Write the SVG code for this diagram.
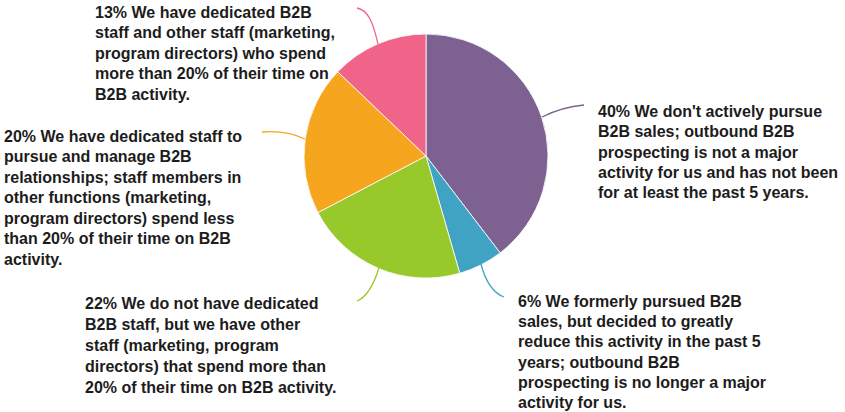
<svg xmlns="http://www.w3.org/2000/svg" width="845" height="412" viewBox="0 0 845 412">
<style>
.sl{stroke:#fff;stroke-width:0.8;stroke-linejoin:round}
.ld{fill:none;stroke-width:1.3}
.lb{font-family:"Liberation Sans",Arial,sans-serif;font-weight:bold;font-size:16px;fill:#1c1c1c}
</style>
<rect width="845" height="412" fill="#fff"/>
<g id="pie">
<g id="slice-40"><path class="sl" fill="#7d6190" d="M426,156 L426,34 A122,122 0 0 1 500.15,252.88 Z"/></g>
<g id="slice-6"><path class="sl" fill="#40a3c4" d="M426,156 L500.15,252.88 A122,122 0 0 1 459.71,273.25 Z"/></g>
<g id="slice-22"><path class="sl" fill="#98c92a" d="M426,156 L459.71,273.25 A122,122 0 0 1 317.91,212.57 Z"/></g>
<g id="slice-20"><path class="sl" fill="#f5a51e" d="M426,156 L317.91,212.57 A122,122 0 0 1 337.73,71.78 Z"/></g>
<g id="slice-13"><path class="sl" fill="#ef6488" d="M426,156 L337.73,71.78 A122,122 0 0 1 426,34 Z"/></g>
</g>
<g id="connectors">
<path class="ld" stroke="#7d6190" d="M542,117 Q562,107 584,105"/>
<path class="ld" stroke="#40a3c4" d="M481,264 Q488,291 504,297"/>
<path class="ld" stroke="#98c92a" d="M379,268 Q370,296 357,301"/>
<path class="ld" stroke="#f5a51e" d="M305,139 Q286,130 262,132"/>
<path class="ld" stroke="#ef6488" d="M378,44 C373,22 368,10 357,8"/>
</g>
<g id="label-13">
<text class="lb" x="95" y="17.5"><tspan x="95">13% We have dedicated B2B</tspan><tspan x="95" dy="20.55">staff and other staff (marketing,</tspan><tspan x="95" dy="20.55">program directors) who spend</tspan><tspan x="95" dy="20.55">more than 20% of their time on</tspan><tspan x="95" dy="20.55">B2B activity.</tspan></text>
</g>
<g id="label-20">
<text class="lb" x="4" y="141.7"><tspan x="4">20% We have dedicated staff to</tspan><tspan x="4" dy="20.55">pursue and manage B2B</tspan><tspan x="4" dy="20.55">relationships; staff members in</tspan><tspan x="4" dy="20.55">other functions (marketing,</tspan><tspan x="4" dy="20.55">program directors) spend less</tspan><tspan x="4" dy="20.55">than 20% of their time on B2B</tspan><tspan x="4" dy="20.55">activity.</tspan></text>
</g>
<g id="label-22">
<text class="lb" x="85" y="309.3"><tspan x="85">22% We do not have dedicated</tspan><tspan x="85" dy="20.8">B2B staff, but we have other</tspan><tspan x="85" dy="20.8">staff (marketing, program</tspan><tspan x="85" dy="20.8">directors) that spend more than</tspan><tspan x="85" dy="20.8">20% of their time on B2B activity.</tspan></text>
</g>
<g id="label-40">
<text class="lb" x="598" y="116.7"><tspan x="598">40% We don't actively pursue</tspan><tspan x="598" dy="20.4">B2B sales; outbound B2B</tspan><tspan x="598" dy="20.4">prospecting is not a major</tspan><tspan x="598" dy="20.4">activity for us and has not been</tspan><tspan x="598" dy="20.4">for at least the past 5 years.</tspan></text>
</g>
<g id="label-6">
<text class="lb" x="518" y="306.7"><tspan x="518">6% We formerly pursued B2B</tspan><tspan x="518" dy="20.3">sales, but decided to greatly</tspan><tspan x="518" dy="20.3">reduce this activity in the past 5</tspan><tspan x="518" dy="20.3">years; outbound B2B</tspan><tspan x="518" dy="20.3">prospecting is no longer a major</tspan><tspan x="518" dy="20.3">activity for us.</tspan></text>
</g>
</svg>
